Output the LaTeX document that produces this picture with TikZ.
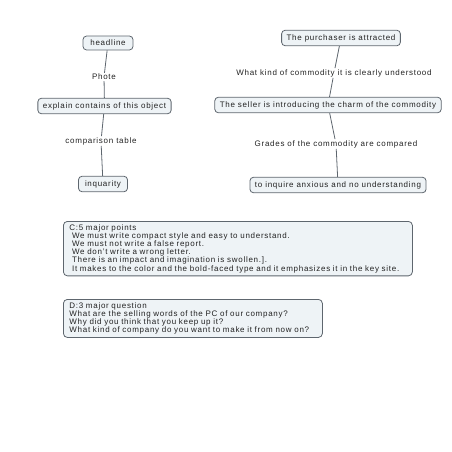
\documentclass[tikz,border=0pt]{standalone}
\usepackage{fontspec}
\setmainfont{Liberation Sans}[LetterSpace=9]
\definecolor{boxfill}{HTML}{EEF3F6}
\definecolor{boxline}{HTML}{5E666E}
\definecolor{txt}{HTML}{222222}
\begin{document}
\begin{tikzpicture}[x=1pt,y=-1pt,
  every node/.style={font=\fontsize{8}{8.2}\selectfont, text=txt},
  topic/.style={draw=boxline, fill=boxfill, rounded corners=3.5pt, line width=0.8pt, inner xsep=5pt, inner ysep=4pt},
  lbl/.style={inner sep=1pt},
  conn/.style={draw=boxline, line width=0.8pt},
  note/.style={draw=boxline, fill=boxfill, rounded corners=4pt, line width=0.8pt, align=left, inner xsep=6pt, inner ysep=3pt, anchor=north west}]
\useasboundingbox (0,0) rectangle (452,452);
% left
\node[topic, minimum width=50pt] (head) at (108,43) {headline};
\node[lbl] (phote) at (104,77) {Phote};
\node[topic] (expl) at (104.5,106) {explain contains of this object};
\node[lbl] (comp) at (101,141) {comparison table};
\node[topic, minimum width=49pt] (inq) at (103,184) {inquarity};
\draw[conn] (head) -- (phote) -- (expl) -- (comp) -- (inq);
% right
\node[topic] (purch) at (341,38) {The purchaser is attracted};
\node[lbl] (what) at (334,73) {What kind of commodity it is clearly understood};
\node[topic] (seller) at (328,105) {The seller is introducing the charm of the commodity};
\node[lbl] (grades) at (336,144) {Grades of the commodity are compared};
\node[topic] (inquire) at (338,185) {to inquire anxious and no understanding};
\draw[conn] (purch) -- (what) -- (seller) -- (grades) -- (inquire);
% notes
\node[note, text width=337pt] (c) at (63,221) {C:5 major points\\
\ We must write compact style and easy to understand.\\
\ We must not write a false report.\\
\ We don't write a wrong letter.\\
\ There is an impact and imagination is swollen.].\\
\ It makes to the color and the bold-faced type and it emphasizes it in the key site.};
\node[note, text width=247pt] (d) at (63,299) {D:3 major question\\
What are the selling words of the PC of our company?\\
Why did you think that you keep up it?\\
What kind of company do you want to make it from now on?};
\end{tikzpicture}
\end{document}
